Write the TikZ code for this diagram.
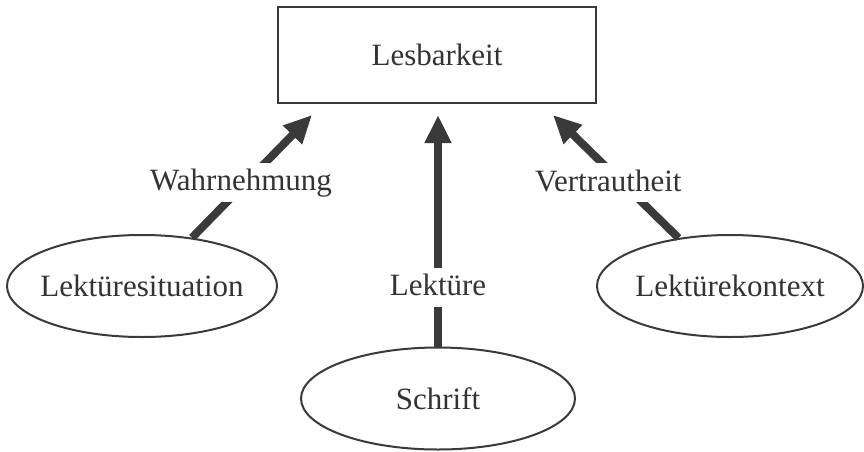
\documentclass[tikz,border=0pt]{standalone}
\usepackage{fontspec}
\setmainfont{Liberation Serif}
\usetikzlibrary{arrows.meta,shapes.geometric}
\definecolor{ink}{HTML}{3A3A3A}
\definecolor{txt}{HTML}{333333}
\begin{document}
\begin{tikzpicture}[x=1pt,y=-1pt,
  every node/.style={font=\fontsize{31}{37}\selectfont, text=txt},
  topbox/.style={draw=ink, line width=2.5pt, minimum width=318pt, minimum height=96pt, inner sep=0pt},
  oval/.style={ellipse, draw=ink, line width=2pt, inner sep=0pt, minimum height=102pt},
  link/.style={draw=ink, line width=8pt, -{Triangle[length=28pt,width=25pt]}},
  lbl/.style={fill=white, inner xsep=2pt, inner ysep=0pt, text height=28pt, text depth=11pt}
]
\useasboundingbox (0,0) rectangle (864,452);
\fill[white] (0,0) rectangle (864,452);

\node[topbox] (lb) at (437,55) {Lesbarkeit};
\node[oval, minimum width=270pt] (e1) at (142,286) {\makebox[0pt]{Lektüresituation}};
\node[oval, minimum width=274pt] (e2) at (438,398.5) {\makebox[0pt]{Schrift}};
\node[oval, minimum width=266pt] (e3) at (730,286) {\makebox[0pt]{Lektürekontext}};

\coordinate (t1) at (312,115);
\coordinate (t2) at (438,115);
\coordinate (t3) at (553,115);

\draw[link] (e1.44) -- node[lbl, pos=0.45, xshift=-5pt] (w) {Wahrnehmung} (t1);
\draw[link] (e2.north) -- node[lbl, pos=0.256] (l) {Lektüre} (t2);
\draw[link] (e3.137) -- node[lbl, pos=0.448, xshift=-14pt] (v) {Vertrautheit} (t3);
\end{tikzpicture}
\end{document}
